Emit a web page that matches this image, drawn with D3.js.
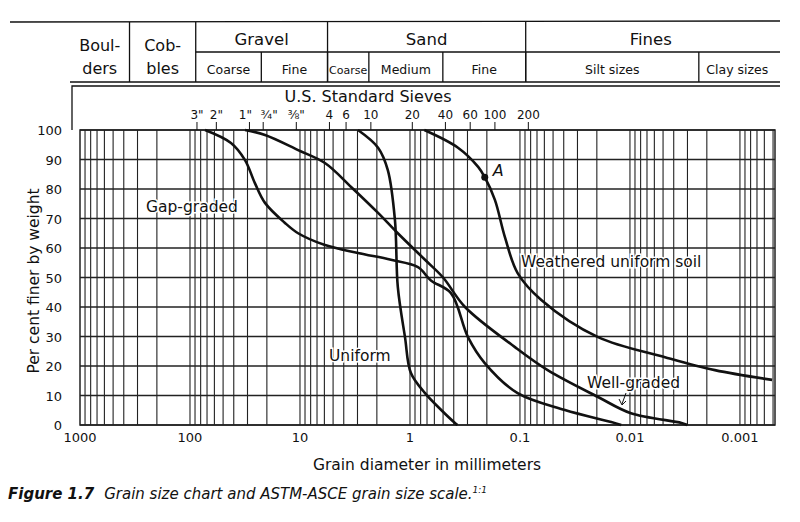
<!DOCTYPE html>
<html><head><meta charset="utf-8">
<script src="https://cdn.jsdelivr.net/npm/d3@7"></script>
<style>body{margin:0;background:#fff}text{font-family:"DejaVu Sans",sans-serif;fill:#111}</style>
</head><body><svg id="c" width="800" height="522"></svg>
<script>
// curves: grain diameter (mm), per cent finer
var gapD = [73, 42.4, 31.6, 25.7, 20.8, 13.7, 10.4, 5.93, 2.97, 1.49, 0.846, 0.645, 0.424, 0.297, 0.209, 0.105, 0.039, 0.0148, 0.012];
var gapP = [100, 95.6, 89.8, 82, 75.3, 68.5, 65, 61, 58.3, 56, 53.5, 49, 44.7, 29.8, 21, 10.8, 5.1, 1, 0];
var wellD = [31.6, 20.8, 10.4, 5.93, 3.43, 1.95, 1.29, 0.73, 0.5, 0.316, 0.111, 0.056, 0.0195, 0.0098, 0.0034, 0.003];
var wellP = [100, 98.3, 93.2, 88.8, 80.7, 71.9, 65, 56, 50, 40, 26.4, 18.6, 9.5, 4, 0.7, 0];
var uniD = [2.97, 1.95, 1.59, 1.37, 1.29, 1.11, 0.98, 0.73, 0.52, 0.39, 0.37];
var uniP = [100, 94, 86.4, 69.5, 46.8, 29.8, 17.6, 10.8, 5.1, 0.7, 0];
var weaD = [0.74, 0.366, 0.24, 0.209, 0.169, 0.137, 0.105, 0.064, 0.0195, 0.0048, 0.00169, 0.00051];
var weaP = [100, 94, 87.5, 84, 76.3, 63.7, 51.5, 42.4, 29.8, 23, 18.6, 15.3];
var sieveLabels = ['3"', '2"', '1"', '¾"', '⅜"', '4', '6', '10', '20', '40', '60', '100', '200'];
var sieveMm = [76.2, 50.8, 25.4, 19.05, 9.525, 4.76, 3.36, 2.0, 0.84, 0.42, 0.25, 0.149, 0.074];
var xTicks = [1000, 100, 10, 1, 0.1, 0.01, 0.001];
var xTickLabels = ['1000', '100', '10', '1', '0.1', '0.01', '0.001'];
var yTicks = [0, 10, 20, 30, 40, 50, 60, 70, 80, 90, 100];
// header classification: boundaries (mm) and labels
var mainBounds = [1e4, 300, 75, 4.75, 0.075, 0.0004];
var mainLabels = [['Boul-', 'ders'], ['Cob-', 'bles'], ['Gravel'], ['Sand'], ['Fines']];
var subBounds = [75, 19, 4.75, 2, 0.425, 0.075, 0.002, 0.0004];
var subLabels = ['Coarse', 'Fine', 'Coarse', 'Medium', 'Fine', 'Silt sizes', 'Clay sizes'];

var svg = d3.select('#c');
var x = d3.scaleLog().domain([1000, 0.00048]).range([80, 775]);
var y = d3.scaleLinear().domain([0, 100]).range([425, 130]);
var hx = function (d) { return Math.max(70, Math.min(780, x(d) - 8)); };

// grid
var g = svg.append('g').attr('stroke', '#222').attr('fill', 'none');
var minor = [];
[1000, 100, 10, 1, 0.1, 0.01, 0.001, 0.0001].forEach(function (dec) {
  for (var k = 1; k < 10; k++) { var v = dec * k / 10; if (v <= 1000 && v >= 0.00048) minor.push(v); }
});
g.selectAll('line.v').data(minor).enter().append('line')
  .attr('x1', function (d) { return x(d); }).attr('x2', function (d) { return x(d); })
  .attr('y1', y(100)).attr('y2', y(0)).attr('stroke-width', 1.1);
g.selectAll('line.h').data(yTicks).enter().append('line')
  .attr('x1', x(1000)).attr('x2', 775).attr('y1', function (d) { return y(d); }).attr('y2', function (d) { return y(d); })
  .attr('stroke-width', 1.3);
g.append('rect').attr('x', x(1000)).attr('y', y(100)).attr('width', 775 - x(1000)).attr('height', y(0) - y(100)).attr('stroke-width', 1.5);

// axis labels
svg.selectAll('text.yt').data(yTicks).enter().append('text')
  .attr('x', 62).attr('y', function (d) { return y(d) + 5; }).attr('text-anchor', 'end')
  .attr('font-size', 13).text(function (d) { return d; });
svg.selectAll('text.xt').data(xTicks).enter().append('text')
  .attr('x', function (d) { return x(d); }).attr('y', 442).attr('text-anchor', 'middle')
  .attr('font-size', 13).text(function (d, i) { return xTickLabels[i]; });

// curves
var line = d3.line().x(function (d) { return x(d[0]); }).y(function (d) { return y(d[1]); }).curve(d3.curveCatmullRom.alpha(0.5));
[[gapD, gapP], [wellD, wellP], [uniD, uniP], [weaD, weaP]].forEach(function (s) {
  svg.append('path').datum(d3.zip(s[0], s[1])).attr('d', line)
    .attr('fill', 'none').attr('stroke', '#111').attr('stroke-width', 2.6);
});
svg.append('circle').attr('cx', x(0.209)).attr('cy', y(84)).attr('r', 3.5).attr('fill', '#111');
svg.append('text').attr('x', x(0.209) + 8).attr('y', y(84) - 1).attr('font-size', 16).attr('font-style', 'italic').text('A');

// curve labels
function lab(t, px, py) {
  svg.append('text').attr('x', px).attr('y', py).attr('font-size', 15.5).attr('paint-order', 'stroke')
    .attr('stroke', '#fff').attr('stroke-width', 3).text(t);
}
lab('Gap-graded', 146, 212);
lab('Uniform', 329, 361);
lab('Weathered uniform soil', 521, 267);
lab('Well-graded', 587, 388);
svg.append('path').attr('d', 'M626,393 L622,404 M619,399 L622,405 L626,401').attr('stroke', '#111').attr('fill', 'none');

// sieves
var labDx = function (i) { return i === 2 ? -4 : (i === 3 ? 6 : 0); };
svg.append('text').attr('x', 368).attr('y', 102).attr('text-anchor', 'middle').attr('font-size', 16).text('U.S. Standard Sieves');
svg.selectAll('line.sv').data(sieveMm).enter().append('line')
  .attr('x1', function (d) { return x(d) - 6; }).attr('x2', function (d) { return x(d) - 6; })
  .attr('y1', 122).attr('y2', 130).attr('stroke', '#111');
svg.selectAll('text.sv').data(sieveMm).enter().append('text')
  .attr('x', function (d, i) { return x(d) - 6 + labDx(i); }).attr('y', 119).attr('text-anchor', 'middle').attr('font-size', 12)
  .text(function (d, i) { return sieveLabels[i]; });
svg.append('path').attr('d', 'M72,130 V86 H780').attr('stroke', '#111').attr('fill', 'none').attr('stroke-width', 1.3);

// header table
var hg = svg.append('g').attr('stroke', '#111').attr('stroke-width', 1.3);
hg.append('line').attr('x1', 10).attr('x2', 780).attr('y1', 22).attr('y2', 21);
hg.append('line').attr('x1', 70).attr('x2', 780).attr('y1', 82).attr('y2', 82);
hg.append('line').attr('x1', hx(75)).attr('x2', 780).attr('y1', 52).attr('y2', 52);
hg.selectAll('line.mb').data(mainBounds.slice(1, -1)).enter().append('line')
  .attr('x1', hx).attr('x2', hx).attr('y1', 22).attr('y2', 82);
hg.selectAll('line.sb').data(subBounds.slice(1, -1)).enter().append('line')
  .attr('x1', hx).attr('x2', hx).attr('y1', 52).attr('y2', 82);
mainLabels.forEach(function (l, i) {
  var cx = (hx(mainBounds[i]) + hx(mainBounds[i + 1])) / 2;
  if (l.length === 2) {
    l.forEach(function (t, j) {
      svg.append('text').attr('x', cx).attr('y', 51 + j * 23).attr('text-anchor', 'middle').attr('font-size', 16).text(t);
    });
  } else {
    svg.append('text').attr('x', cx).attr('y', 45).attr('text-anchor', 'middle').attr('font-size', 16.5).text(l[0]);
  }
});
subLabels.forEach(function (t, i) {
  var cx = (hx(subBounds[i]) + hx(subBounds[i + 1])) / 2;
  svg.append('text').attr('x', cx).attr('y', 74).attr('text-anchor', 'middle')
    .attr('font-size', i === 2 ? 11 : 12.5).text(t);
});

// titles
svg.append('text').attr('transform', 'translate(39,281) rotate(-90)').attr('text-anchor', 'middle').attr('font-size', 15.5).text('Per cent finer by weight');
svg.append('text').attr('x', 427).attr('y', 470).attr('text-anchor', 'middle').attr('font-size', 15.5).text('Grain diameter in millimeters');
var cap = svg.append('text').attr('x', 8).attr('y', 499).attr('font-size', 15).attr('font-style', 'italic');
cap.append('tspan').attr('font-weight', 'bold').text('Figure 1.7');
cap.append('tspan').attr('dx', 10).text('Grain size chart and ASTM-ASCE grain size scale.');
cap.append('tspan').attr('font-size', 9).attr('dy', -6).text('1:1');
</script></body></html>
